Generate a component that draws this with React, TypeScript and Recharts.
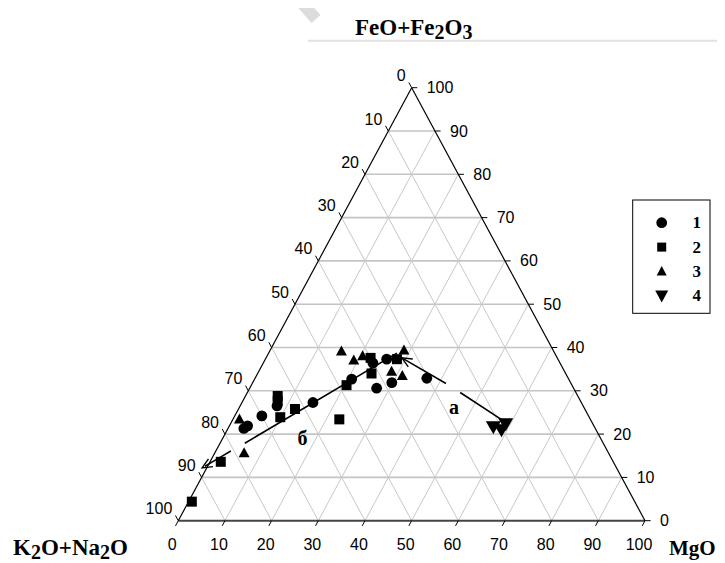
import React from 'react';
import { ScatterChart, Scatter, XAxis, YAxis, ReferenceLine, ReferenceDot } from 'recharts';

// Ternary values: [MgO, FeO+Fe2O3]; K2O+Na2O = 100 - MgO - (FeO+Fe2O3)
const group1: [number, number][] = [
  [7.9, 26.5], [5.8, 24.2], [3.4, 21.3], [3.9, 21.9], [15.2, 27.3], [20.8, 32.7],
  [23.5, 36.4], [26.0, 37.3], [27.2, 30.6], [29.8, 31.9], [36.8, 32.9],
];
const group2: [number, number][] = [
  [6.9, 28.8], [7.5, 27.6], [9.9, 23.9], [12.1, 25.8], [20.4, 31.3], [22.8, 23.4],
  [22.4, 37.6], [24.4, 34.0], [28.2, 37.3], [2.3, 13.6], [0.7, 4.4],
];
const group3: [number, number][] = [
  [1.4, 23.4], [6.3, 15.6], [15.4, 39.1], [19.1, 37.0], [20.5, 38.0], [28.7, 39.3],
  [28.5, 34.4], [31.3, 33.4],
];
const group4: [number, number][] = [[56.7, 21.6], [58.8, 20.9], [59.0, 22.3]];

const tickValues = [0, 10, 20, 30, 40, 50, 60, 70, 80, 90, 100];
const gridValues = [10, 20, 30, 40, 50, 60, 70, 80, 90];
const legendLabels = ['1', '2', '3', '4'];

// Trend arrows in ternary values [MgO, FeO+Fe2O3]
const arrowA1: [number, number][] = [[41.5, 31.7], [29.1, 37.6]];
const arrowA2: [number, number][] = [[45.6, 29.6], [57.7, 23.3]];
const arrowB1: [number, number][] = [[27.5, 38.7], [5.3, 17.9]];
const arrowB2: [number, number][] = [[3.2, 16.1], [-1.0, 12.2]];
const annotations: { text: string; at: [number, number] }[] = [
  { text: 'а', at: [46.0, 26.2] },
  { text: 'б', at: [17.1, 19.0] },
];

const FONT_SANS = '"Liberation Sans", Arial, sans-serif';
const FONT_SERIF = '"Liberation Serif", "Times New Roman", serif';

const tern = (m: number, f: number) => ({ x: m + f / 2, y: f });
const toData = (arr: [number, number][]) => arr.map(([m, f]) => tern(m, f));

// Chart covers the whole page (body margin cancelled)
const W = 725;
const H = 563;
const MARGIN = { top: 87.7, right: 80, bottom: 42.3, left: 178.3 };

const circleShape = (p: any) => <circle cx={p.cx} cy={p.cy} r={5.4} fill="#000" />;
const squareShape = (p: any) => <rect x={p.cx - 5} y={p.cy - 5} width={10} height={10} fill="#000" />;
const triShape = (p: any) => (
  <polygon points={`${p.cx},${p.cy - 6} ${p.cx - 5.5},${p.cy + 4} ${p.cx + 5.5},${p.cy + 4}`} fill="#000" />
);
const downTriShape = (p: any) => (
  <polygon points={`${p.cx - 7.5},${p.cy - 6} ${p.cx + 7.5},${p.cy - 6} ${p.cx},${p.cy + 7}`} fill="#000" />
);

const tickShape = (label: string, dx: number, dy: number, anchor: string) => (p: any) => (
  <g>
    <line x1={p.x1} y1={p.y1} x2={p.x2} y2={p.y2} stroke="#000" strokeWidth={1} />
    <text x={p.x1 + dx} y={p.y1 + dy} textAnchor={anchor} dominantBaseline="central"
      fontFamily={FONT_SANS} fontSize={16} fill="#000">{label}</text>
  </g>
);

const arrowShape = (head: boolean, dash?: string) => (p: any) => {
  const { x1, y1, x2, y2 } = p;
  const ang = Math.atan2(y2 - y1, x2 - x1);
  const L = 11;
  const a = 0.42;
  const h1 = [x2 - L * Math.cos(ang - a), y2 - L * Math.sin(ang - a)];
  const h2 = [x2 - L * Math.cos(ang + a), y2 - L * Math.sin(ang + a)];
  return (
    <g>
      <line x1={x1} y1={y1} x2={x2} y2={y2} stroke="#000" strokeWidth={1.6} strokeDasharray={dash} />
      {head && (
        <polyline points={`${h1[0]},${h1[1]} ${x2},${y2} ${h2[0]},${h2[1]}`} fill="none" stroke="#000" strokeWidth={1.4} />
      )}
    </g>
  );
};

const seg = (arr: [number, number][]) => arr.map(([m, f]) => tern(m, f));

export default function App() {
  const hGrid = gridValues.map((k) => [tern(0, k), tern(100 - k, k)]);
  const mGrid = gridValues.map((k) => [tern(k, 0), tern(k, 100 - k)]);
  const kGrid = gridValues.map((k) => [tern(100 - k, 0), tern(0, 100 - k)]);

  const leftTicks = tickValues.map((k) => ({ k, s: [tern(0, 100 - k), tern(-1.2, 100 - k + 1.2)] }));
  const rightTicks = tickValues.map((k) => ({ k, s: [tern(100 - k, k), tern(100 - k + 1.2, k)] }));
  const bottomTicks = tickValues.map((k) => ({ k, s: [tern(k, 0), tern(k, -1.2)] }));

  return (
    <div style={{ position: 'relative', width: W, height: H, margin: '-8px 0 0 -8px' }}>
      <ScatterChart width={W} height={H} margin={MARGIN}>
        <XAxis type="number" dataKey="x" domain={[0, 100]} hide allowDataOverflow />
        <YAxis type="number" dataKey="y" domain={[0, 100]} hide allowDataOverflow />
        {hGrid.map((s, i) => (
          <ReferenceLine key={'h' + i} segment={s} stroke="#c4c4c4" strokeWidth={1.6} ifOverflow="visible" zIndex={-50} />
        ))}
        {mGrid.map((s, i) => (
          <ReferenceLine key={'m' + i} segment={s} stroke="#c8c8c8" strokeWidth={1} ifOverflow="visible" zIndex={-50} />
        ))}
        {kGrid.map((s, i) => (
          <ReferenceLine key={'k' + i} segment={s} stroke="#c8c8c8" strokeWidth={1} ifOverflow="visible" zIndex={-50} />
        ))}
        <ReferenceLine segment={[tern(0, 0), tern(100, 0)]} stroke="#444" strokeWidth={2} ifOverflow="visible" zIndex={-40} />
        <ReferenceLine segment={[tern(0, 0), tern(0, 100)]} stroke="#000" strokeWidth={1.2} ifOverflow="visible" zIndex={-40} />
        <ReferenceLine segment={[tern(100, 0), tern(0, 100)]} stroke="#000" strokeWidth={1.2} ifOverflow="visible" zIndex={-40} />
        {leftTicks.map((t) => (
          <ReferenceLine key={'lt' + t.k} segment={t.s} ifOverflow="visible" zIndex={-40}
            shape={tickShape(String(t.k), -6, -12, 'end')} />
        ))}
        {rightTicks.map((t) => (
          <ReferenceLine key={'rt' + t.k} segment={t.s} ifOverflow="visible" zIndex={-40}
            shape={tickShape(String(t.k), 15, 0, 'start')} />
        ))}
        {bottomTicks.map((t) => (
          <ReferenceLine key={'bt' + t.k} segment={t.s} ifOverflow="visible" zIndex={-40}
            shape={tickShape(String(t.k), -6, 24, 'middle')} />
        ))}
        <Scatter data={toData(group1)} shape={circleShape} isAnimationActive={false} />
        <Scatter data={toData(group2)} shape={squareShape} isAnimationActive={false} />
        <Scatter data={toData(group3)} shape={triShape} isAnimationActive={false} />
        <Scatter data={toData(group4)} shape={downTriShape} isAnimationActive={false} />
        <ReferenceLine segment={seg(arrowA1)} ifOverflow="visible" shape={arrowShape(true)} zIndex={900} />
        <ReferenceLine segment={seg(arrowA2)} ifOverflow="visible" shape={arrowShape(false)} zIndex={900} />
        <ReferenceLine segment={seg(arrowB1)} ifOverflow="visible" shape={arrowShape(false)} zIndex={900} />
        <ReferenceLine segment={seg(arrowB2)} ifOverflow="visible" shape={arrowShape(true, '13 4')} zIndex={900} />
        {annotations.map((a) => {
          const pt = tern(a.at[0], a.at[1]);
          return (
            <ReferenceDot key={a.text} x={pt.x} y={pt.y} r={1} zIndex={900}
              shape={(p: any) => (
                <text x={p.cx} y={p.cy} textAnchor="middle" dominantBaseline="central"
                  fontFamily={FONT_SERIF} fontWeight="bold" fontSize={20} fill="#000">{a.text}</text>
              )} />
          );
        })}
      </ScatterChart>
      {/* overlay in page coordinates */}
      <svg width={W} height={H} style={{ position: 'absolute', left: 0, top: 0, pointerEvents: 'none' }}>
        <line x1={294} y1={-6} x2={316} y2={19} stroke="#dcdcdc" strokeWidth={12} />
        <line x1={308} y1={40.7} x2={725} y2={40.7} stroke="#e2e2e2" strokeWidth={2} />
        <text x={355} y={35} fontFamily={FONT_SERIF} fontWeight="bold" fontSize={23} fill="#000">
          FeO+Fe<tspan dy={4} fontSize={20}>2</tspan><tspan dy={-4}>O</tspan><tspan dy={4} fontSize={20}>3</tspan>
        </text>
        <text x={13} y={555} fontFamily={FONT_SERIF} fontWeight="bold" fontSize={23} fill="#000">
          K<tspan dy={4} fontSize={20}>2</tspan><tspan dy={-4}>O+Na</tspan><tspan dy={4} fontSize={20}>2</tspan><tspan dy={-4}>O</tspan>
        </text>
        <text x={669} y={555} fontFamily={FONT_SERIF} fontWeight="bold" fontSize={21} fill="#000">MgO</text>
        <rect x={632.7} y={200} width={77.3} height={113.3} fill="#fff" stroke="#000" strokeWidth={1} />
        {legendLabels.map((lab, i) => {
          const cy = 222.7 + i * 24.4;
          const cx = 661.7;
          const shape = i === 0 ? circleShape({ cx, cy })
            : i === 1 ? <rect x={cx - 4.5} y={cy - 4.5} width={9} height={9} fill="#000" />
            : i === 2 ? <polygon points={`${cx},${cy - 5.5} ${cx - 5},${cy + 4} ${cx + 5},${cy + 4}`} fill="#000" />
            : <polygon points={`${cx - 6.5},${cy - 5.5} ${cx + 6.5},${cy - 5.5} ${cx},${cy + 6.5}`} fill="#000" />;
          return (
            <g key={lab}>
              {shape}
              <text x={696.7} y={cy} textAnchor="middle" dominantBaseline="central"
                fontFamily={FONT_SERIF} fontWeight="bold" fontSize={17} fill="#000">{lab}</text>
            </g>
          );
        })}
      </svg>
    </div>
  );
}
